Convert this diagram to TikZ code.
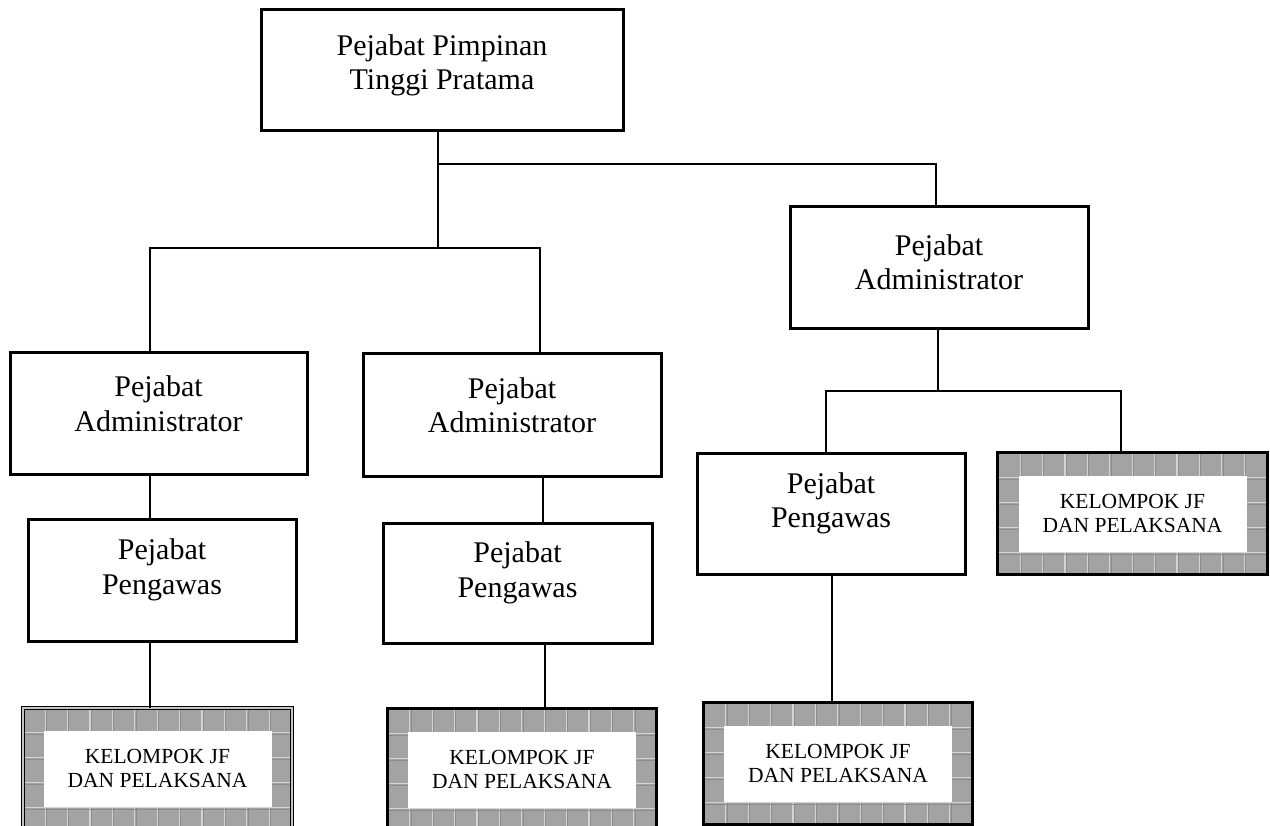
\documentclass[tikz,border=0pt]{standalone}
\usepackage{fontspec}
\setmainfont{Liberation Serif}
\usetikzlibrary{calc}

\definecolor{tilegrey}{RGB}{163,163,163}
\definecolor{tilelight}{RGB}{212,212,212}
\definecolor{tiledark}{RGB}{140,140,140}

\tikzset{
  orgbox/.style={draw=black, line width=3pt, fill=white, rectangle, inner sep=0pt},
  orgtext/.style={align=center, inner sep=0pt, font=\fontsize{30}{34.5}\selectfont},
  kjftext/.style={align=center, fill=white, inner sep=0pt, font=\fontsize{21.5}{24}\selectfont,
                  minimum width=228pt, minimum height=76pt},
  link/.style={draw=black, line width=2.8pt},
  thickframe/.style={draw=black, line width=3.2pt},
  doubleframe/.style={draw=black, line width=1.1pt, double=gray!45, double distance=1.6pt},
}

% tiled "KELOMPOK JF" box: #1 name, #2 centre x, #3 centre y, #4 frame style
\newcommand\tiledbox[4]{%
  \node[rectangle, inner sep=0pt, minimum width=269pt, minimum height=121pt, fill=tilegrey] (#1) at (#2,#3) {};
  \begin{scope}
    \clip (#1.north west) rectangle (#1.south east);
    \foreach \i in {1,...,11} {
      \draw[tiledark, line width=1pt] ($(#1.north west)+(\i*22.4+1.3,0)$) -- ++(0,121);
      \draw[tilelight, line width=1.2pt] ($(#1.north west)+(\i*22.4,0)$) -- ++(0,121);
    }
    \foreach \j in {1,...,4} {
      \draw[tiledark, line width=1pt] ($(#1.north west)+(0,\j*25+1.3)$) -- ++(269,0);
      \draw[tilelight, line width=1.2pt] ($(#1.north west)+(0,\j*25)$) -- ++(269,0);
    }
  \end{scope}
  \draw[#4] (#1.north west) rectangle (#1.south east);
  \node[kjftext] (#1t) at (#1) {KELOMPOK JF\\DAN PELAKSANA};
}

\begin{document}
\begin{tikzpicture}[x=1pt, y=-1pt]
  \useasboundingbox (0,0) rectangle (1270,826);
  \fill[white] (0,0) rectangle (1270,826);

  % junction points of the tree
  \coordinate (jTop) at (438,164);
  \coordinate (jMid) at (438,248);
  \coordinate (jR) at (938,391);

  % boxes
  \node[orgbox, minimum width=362pt, minimum height=121pt] (T) at (442,70.5) {};
  \node[orgtext] (Tt) at ($(T)+(0,-5)$) {Pejabat Pimpinan\\Tinggi Pratama};

  \node[orgbox, minimum width=298pt, minimum height=122pt] (AR) at (939,268) {};
  \node[orgtext] (ARt) at ($(AR)+(0,-6)$) {Pejabat\\Administrator};

  \node[orgbox, minimum width=297pt, minimum height=121pt] (A1) at (158.5,413.5) {};
  \node[orgtext] (A1t) at ($(A1)+(0,-10)$) {Pejabat\\Administrator};

  \node[orgbox, minimum width=298pt, minimum height=122pt] (A2) at (512,415) {};
  \node[orgtext] (A2t) at ($(A2)+(0,-10)$) {Pejabat\\Administrator};

  \node[orgbox, minimum width=268pt, minimum height=122pt] (P1) at (162,580) {};
  \node[orgtext] (P1t) at ($(P1)+(0,-10)$) {Pejabat\\Pengawas};

  \node[orgbox, minimum width=269pt, minimum height=120pt] (P2) at (517.5,583) {};
  \node[orgtext] (P2t) at ($(P2)+(0,-10)$) {Pejabat\\Pengawas};

  \node[orgbox, minimum width=268pt, minimum height=121pt] (P3) at (831,513.5) {};
  \node[orgtext] (P3t) at ($(P3)+(0,-10)$) {Pejabat\\Pengawas};

  \tiledbox{K1}{157.5}{768.5}{doubleframe}
  \tiledbox{K2}{522}{769.5}{thickframe}
  \tiledbox{K3}{838}{763.5}{thickframe}
  \tiledbox{K4}{1132.5}{513.5}{thickframe}

  % connectors between levels
  \draw[link] ([xshift=-4pt]T.south) -- (jMid);
  \draw[link] (jTop) -| ([xshift=-3pt]AR.north);
  \draw[link] ([xshift=-8.5pt]A1.north) |- (jMid) -| ([xshift=28pt]A2.north);
  \draw[link] ([xshift=-8.5pt]A1.south) -- ([xshift=-8.5pt]A1.south |- P1.north);
  \draw[link] ([xshift=-12pt]P1.south) -- ([xshift=-12pt]P1.south |- K1.north);
  \draw[link] ([xshift=31pt]A2.south) -- ([xshift=31pt]A2.south |- P2.north);
  \draw[link] ([xshift=27.5pt]P2.south) -- ([xshift=27.5pt]P2.south |- K2.north);
  \draw[link] ([xshift=-1pt]AR.south) -- (jR);
  \draw[link] ([xshift=-5pt]P3.north) |- (jR) -| ([xshift=-11.5pt]K4.north);
  \draw[link] ([xshift=1pt]P3.south) -- ([xshift=1pt]P3.south |- K3.north);
\end{tikzpicture}
\end{document}
